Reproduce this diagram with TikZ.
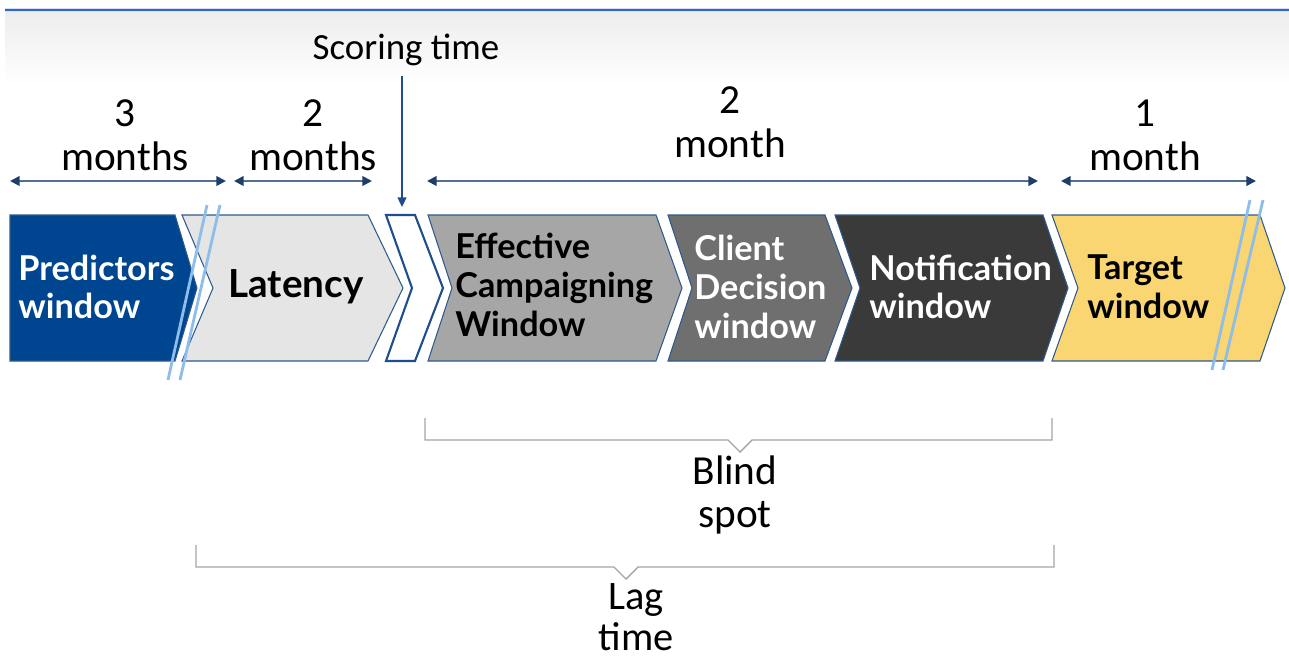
\documentclass[tikz,border=0pt]{standalone}
\usepackage{fontspec}
\setmainfont{Carlito}
\newfontfamily\boxfont{Lato}
\usetikzlibrary{positioning,arrows.meta}
\definecolor{ingblue}{HTML}{00458F}
\definecolor{latgray}{HTML}{E5E5E5}
\definecolor{effgray}{HTML}{A6A6A6}
\definecolor{cligray}{HTML}{6F6F6F}
\definecolor{notgray}{HTML}{3A3A3A}
\definecolor{tgtyell}{HTML}{F9D672}
\definecolor{edgeblue}{HTML}{2F5A8C}
\definecolor{slashblue}{HTML}{8DBDE8}
\definecolor{dimline}{HTML}{4F6F93}
\definecolor{dimhead}{HTML}{1F3D6B}
\definecolor{scoreblue}{HTML}{1F4E8C}
\definecolor{rulerblue}{HTML}{2E6DB4}
\definecolor{brkgray}{HTML}{A5A5A5}
\tikzset{
  okno/.style={draw=edgeblue,line width=0.6pt},
  popis/.style={font=\boxfont\bfseries\fontsize{19.5}{22}\selectfont,align=left,anchor=west,inner sep=0pt},
  delka/.style={font=\fontsize{23.5}{25}\selectfont,align=center,inner sep=0pt},
  kota/.style={draw=dimline,line width=1.1pt,{Triangle[color=dimhead,length=5.5pt,width=5.5pt]}-{Triangle[color=dimhead,length=5.5pt,width=5.5pt]}},
  zavorka/.style={draw=brkgray,line width=0.8pt},
  rez/.style={draw=slashblue,line width=1.6pt},
}
% chevron: style, left x, notch depth, right x, tip depth
\newcommand{\sipka}[5]{%
  \filldraw[#1] (#2,215) -- (#4,215) -- ({#4+#5},288) -- (#4,361) -- (#2,361) -- ({#2+#3},288) -- cycle;}

\begin{document}
\begin{tikzpicture}[x=0.02cm,y=-0.02cm]
  \useasboundingbox (0,0) rectangle (1289,663);
  % header band
  \shade[top color=black!7,bottom color=white] (5,12) rectangle (1289,85);
  \draw[blue!15,line width=2.2pt] (5,10) -- (1289,10);
  \draw[rulerblue,line width=1pt] (5,10) -- (1289,10);
  % chevrons
  \sipka{okno,fill=ingblue}{10}{0}{175}{22}
  \sipka{okno,fill=latgray}{182}{31}{368}{35}
  \sipka{okno,fill=white,draw=scoreblue,line width=1.2pt}{386}{26}{415}{28}
  \sipka{okno,fill=effgray}{428}{24}{656}{26}
  \sipka{okno,fill=cligray}{668}{24}{825}{27}
  \sipka{okno,fill=notgray}{835}{25}{1043}{25}
  \sipka{okno,fill=tgtyell}{1052}{26}{1260}{25}
  % cut marks
  \draw[rez] (207,205) -- (168,380) (220,205) -- (180,380);
  \draw[rez] (1250,200) -- (1212,370) (1263,200) -- (1223,370);
  % labels in chevrons
  \node[popis,text=white] (pred) at (18,287) {Predictors\\window};
  \node[popis,font=\boxfont\bfseries\fontsize{22}{24}\selectfont] (lat) at (228,287) {Latency};
  \node[popis] (eff) at (455,285) {Effective\\Campaigning\\Window};
  \node[popis,text=white] (cli) at (694,287) {Client\\Decision\\window};
  \node[popis,text=white] (noti) at (869,287) {Notification\\window};
  \node[popis] (tgt) at (1087,287) {Target\\window};
  % durations
  \node[delka] (t3) at (125,135) {3\\months};
  \node[delka] (t2) at (313,135) {2\\months};
  \node[delka] (t2b) at (730,122) {2\\month};
  \node[delka] (t1) at (1145,135) {1\\month};
  \coordinate (k1a) at (10,181);   \coordinate (k1b) at (226,181);
  \coordinate (k2a) at (234,181);  \coordinate (k2b) at (372,181);
  \coordinate (k3a) at (427,181);  \coordinate (k3b) at (1038,181);
  \coordinate (k4a) at (1061,181); \coordinate (k4b) at (1256,181);
  \draw[kota] (k1a) -- (k1b);
  \draw[kota] (k2a) -- (k2b);
  \draw[kota] (k3a) -- (k3b);
  \draw[kota] (k4a) -- (k4b);
  % scoring time
  \node[delka,font=\fontsize{21}{24}\selectfont] (score) at (406,50) {Scoring time};
  \coordinate (s1) at (402,76);
  \coordinate (s2) at (402,207);
  \draw[scoreblue,line width=1.1pt,-{Triangle[length=5.5pt,width=5pt]}] (s1) -- (s2);
  % brackets
  \draw[zavorka] (425,418) |- (728,440) -- (740,452) -- (752,440) -| (1052,418);
  \node[delka] (blind) at (735,495) {Blind\\spot};
  \draw[zavorka] (196,545) |- (614,567) -- (626,579) -- (638,567) -| (1054,545);
  \node[delka,font=\fontsize{23}{23.5}\selectfont] (lag) at (636,617) {Lag\\time};
\end{tikzpicture}
\end{document}
